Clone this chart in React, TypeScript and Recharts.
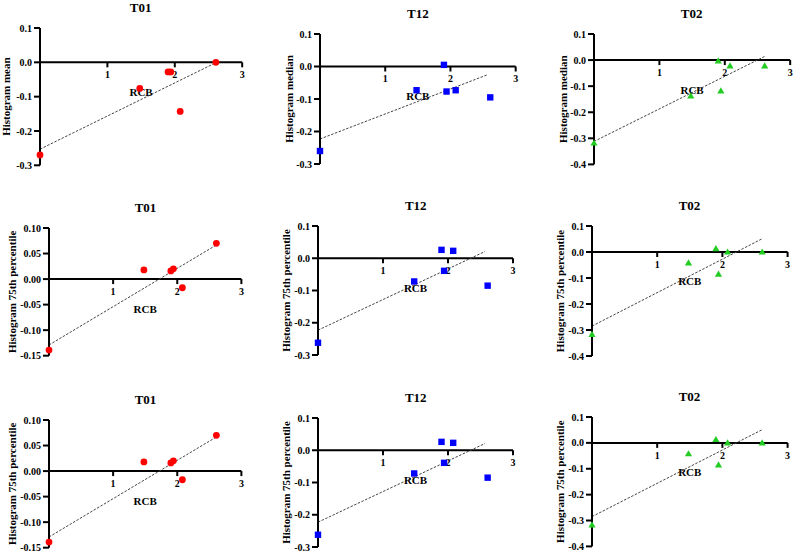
import React from "react";
import { ScatterChart, Scatter, XAxis, YAxis, ReferenceLine, ReferenceDot } from "recharts";

// RCB score per patient (shared across panels)
const rcb = [0, 1.48, 1.9, 1.94, 2.08, 2.61];

const t01Mean = [-0.27, -0.076, -0.028, -0.028, -0.143, 0.0];
const t12Median = [-0.26, -0.073, 0.005, -0.077, -0.073, -0.095];
const t02Median = [-0.318, -0.137, -0.003, -0.118, -0.022, -0.022];
const t01P75 = [-0.139, 0.018, 0.016, 0.02, -0.017, 0.07];
const t12P75 = [-0.262, -0.072, 0.026, -0.039, 0.023, -0.085];
const t02P75 = [-0.317, -0.042, 0.013, -0.085, 0.0, 0.0];

// fitted line endpoints: [x0, y0, x1, y1]
const fitT01Mean = [0, -0.253, 2.6, -0.002];
const fitT12Median = [0, -0.223, 2.56, -0.026];
const fitT02Median = [0, -0.312, 2.61, 0.014];
const fitT01P75 = [0, -0.129, 2.6, 0.066];
const fitT12P75 = [0, -0.223, 2.57, 0.021];
const fitT02P75 = [0, -0.285, 2.61, 0.051];

const ticksA = [-0.3, -0.2, -0.1, 0, 0.1];
const ticksB = [-0.4, -0.3, -0.2, -0.1, 0, 0.1];
const ticksC = [-0.15, -0.1, -0.05, 0, 0.05, 0.1];
const xTicks = [1, 2, 3];

const FONT = "'Liberation Serif', 'Times New Roman', serif";

type Marker = "circle" | "square" | "triangle";

type Panel = {
  title: string;
  yLabel: string;
  values: number[];
  fit: number[];
  ticks: number[];
  digits: number;
  color: string;
  marker: Marker;
  left: number;
  top: number;
  width: number;
  height: number;
  labelGap: number;
};

const ML = 60;
const MR = 14;
const MT = 8;
const MB = 40;

const markerShape = (kind: Marker, color: string) => (s: any) => {
  const { cx, cy } = s;
  if (kind === "circle") return <circle cx={cx} cy={cy} r={3.4} fill={color} />;
  if (kind === "square") return <rect x={cx - 3.2} y={cy - 3.2} width={6.4} height={6.4} fill={color} />;
  return <path d={`M${cx},${cy - 3.6}L${cx + 3.6},${cy + 2.6}L${cx - 3.6},${cy + 2.6}Z`} fill={color} />;
};

function PanelChart({ p }: { p: Panel }) {
  const data = rcb.map((x, i) => ({ x, y: p.values[i] }));
  const [x0, y0, x1, y1] = p.fit;
  return (
    <>
      <div
        style={{
          position: "absolute",
          left: p.left,
          width: p.width,
          top: p.top - 27,
          lineHeight: "13px",
          fontSize: 13,
          fontWeight: "bold",
          textAlign: "center",
          fontFamily: FONT,
        }}
      >
        {p.title}
      </div>
      <div style={{ position: "absolute", left: p.left - ML, top: p.top - MT }}>
        <ScatterChart
          width={ML + p.width + MR}
          height={MT + p.height + MB}
          margin={{ top: MT, right: MR, bottom: MB, left: 0 }}
        >
          <XAxis type="number" dataKey="x" domain={[0, 3]} hide />
          <YAxis
            type="number"
            dataKey="y"
            width={ML}
            domain={[p.ticks[0], p.ticks[p.ticks.length - 1]]}
            ticks={p.ticks}
            interval={0}
            tickFormatter={(v: number) => v.toFixed(p.digits)}
            axisLine={{ stroke: "#000", strokeWidth: 2 }}
            tickLine={{ stroke: "#000", strokeWidth: 2 }}
            tickSize={6}
            tick={{ fill: "#000", fontSize: 10, fontWeight: "bold", fontFamily: FONT }}
            label={{
              value: p.yLabel,
              angle: -90,
              position: "insideLeft",
              offset: ML - p.labelGap,
              style: { textAnchor: "middle", fill: "#000", fontSize: 11, fontWeight: "bold", fontFamily: FONT },
            }}
          />
          <ReferenceLine y={0} stroke="#000" strokeWidth={2} />
          <ReferenceLine
            segment={[
              { x: x0, y: y0 },
              { x: x1, y: y1 },
            ]}
            stroke="#444"
            strokeWidth={1}
            strokeDasharray="2.5 1.5"
          />
          {xTicks.map((t) => (
            <ReferenceDot
              key={t}
              x={t}
              y={0}
              shape={(s: any) => (
                <g>
                  <line x1={s.cx} x2={s.cx} y1={s.cy} y2={s.cy + 5} stroke="#000" strokeWidth={2} />
                  <text
                    x={s.cx}
                    y={s.cy + 16}
                    textAnchor="middle"
                    fontSize={10}
                    fontWeight="bold"
                    fontFamily={FONT}
                    fill="#000"
                  >
                    {t}
                  </text>
                </g>
              )}
            />
          ))}
          <ReferenceDot
            x={1.5}
            y={0}
            shape={(s: any) => (
              <text
                x={s.cx}
                y={s.cy + 33.5}
                textAnchor="middle"
                fontSize={11}
                fontWeight="bold"
                fontFamily={FONT}
                fill="#000"
              >
                RCB
              </text>
            )}
          />
          <Scatter data={data} fill={p.color} shape={markerShape(p.marker, p.color)} isAnimationActive={false} />
        </ScatterChart>
      </div>
    </>
  );
}

const RED = "#ff0000";
const BLUE = "#0000ff";
const GREEN = "#22cc22";

const panels: Panel[] = [
  { title: "T01", yLabel: "Histogram mean", values: t01Mean, fit: fitT01Mean, ticks: ticksA, digits: 1, color: RED, marker: "circle", left: 39.5, top: 27.7, width: 202.2, height: 137.3, labelGap: 33.5 },
  { title: "T12", yLabel: "Histogram median", values: t12Median, fit: fitT12Median, ticks: ticksA, digits: 1, color: BLUE, marker: "square", left: 320, top: 34.3, width: 195.7, height: 130, labelGap: 31 },
  { title: "T02", yLabel: "Histogram median", values: t02Median, fit: fitT02Median, ticks: ticksB, digits: 1, color: GREEN, marker: "triangle", left: 593.5, top: 34.3, width: 196.2, height: 130.4, labelGap: 31.3 },
  { title: "T01", yLabel: "Histogram 75th percentile", values: t01P75, fit: fitT01P75, ticks: ticksC, digits: 2, color: RED, marker: "circle", left: 49.3, top: 228.3, width: 192.4, height: 127.7, labelGap: 37 },
  { title: "T12", yLabel: "Histogram 75th percentile", values: t12P75, fit: fitT12P75, ticks: ticksA, digits: 1, color: BLUE, marker: "square", left: 318.3, top: 226, width: 195, height: 129, labelGap: 31.5 },
  { title: "T02", yLabel: "Histogram 75th percentile", values: t02P75, fit: fitT02P75, ticks: ticksB, digits: 1, color: GREEN, marker: "triangle", left: 591.7, top: 225.7, width: 195.6, height: 130, labelGap: 31.7 },
  { title: "T01", yLabel: "Histogram 75th percentile", values: t01P75, fit: fitT01P75, ticks: ticksC, digits: 2, color: RED, marker: "circle", left: 49.3, top: 420, width: 192.4, height: 127.7, labelGap: 37 },
  { title: "T12", yLabel: "Histogram 75th percentile", values: t12P75, fit: fitT12P75, ticks: ticksA, digits: 1, color: BLUE, marker: "square", left: 318.3, top: 417.7, width: 195, height: 129, labelGap: 32 },
  { title: "T02", yLabel: "Histogram 75th percentile", values: t02P75, fit: fitT02P75, ticks: ticksB, digits: 1, color: GREEN, marker: "triangle", left: 591.7, top: 417.3, width: 195.6, height: 129.4, labelGap: 31.7 },
];

export default function App() {
  return (
    <div
      style={{
        position: "absolute",
        left: 0,
        top: 0,
        width: 793,
        height: 553,
        overflow: "hidden",
        background: "#fff",
        fontFamily: FONT,
      }}
    >
      {panels.map((p, i) => (
        <PanelChart key={i} p={p} />
      ))}
    </div>
  );
}
